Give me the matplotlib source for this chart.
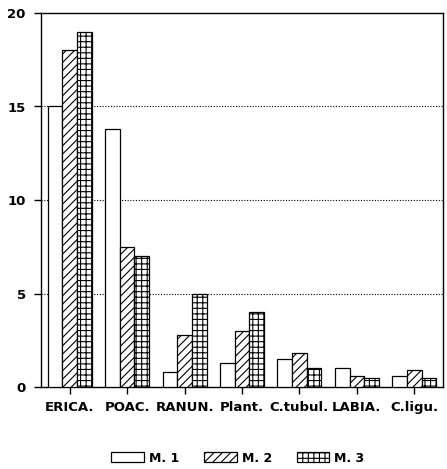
import numpy as np
import matplotlib
matplotlib.use('Agg')
import matplotlib.pyplot as plt

plt.rcParams['font.family'] = ['DejaVu Sans']
plt.rcParams['font.weight'] = 'bold'
plt.rcParams['hatch.linewidth'] = 0.8

# data
categories = ['ERICA.', 'POAC.', 'RANUN.', 'Plant.', 'C.tubul.', 'LABIA.', 'C.ligu.']
m1 = [15.0, 13.8, 0.8, 1.3, 1.5, 1.0, 0.6]
m2 = [18.0, 7.5, 2.8, 3.0, 1.8, 0.6, 0.9]
m3 = [19.0, 7.0, 5.0, 4.0, 1.0, 0.5, 0.5]
series = ['M. 1', 'M. 2', 'M. 3']
hatches = ['', '////', '+++']
y_ticks = [0, 5, 10, 15, 20]

fig = plt.figure(figsize=(4.47, 4.69), dpi=100)
ax = fig.add_axes([41/447, 1 - 387/469, 402/447, 374/469])

x = np.arange(len(categories))
w = 0.255
for i, (vals, name, h) in enumerate(zip([m1, m2, m3], series, hatches)):
    ax.bar(x + (i - 1) * w, vals, w, color='white', edgecolor='black',
           linewidth=0.9, hatch=h, label=name, zorder=3)

ax.set_xlim(-0.5, len(categories) - 0.5)
ax.set_ylim(0, 20)
ax.set_yticks(y_ticks)
ax.set_yticklabels([str(t) for t in y_ticks], fontsize=9.5, fontweight='bold')
ax.set_xticks(x)
ax.set_xticklabels(categories, fontsize=9.5, fontweight='bold')
ax.tick_params(axis='both', direction='out', length=5, width=1, color='black')
ax.tick_params(axis='x', pad=5)
ax.tick_params(axis='y', pad=6)

for t in [5, 10, 15]:
    ax.axhline(t, color='black', linestyle=(0, (1, 1.5)), linewidth=0.8, zorder=1)

for s in ax.spines.values():
    s.set_linewidth(1.0)
    s.set_color('black')

leg = fig.legend(loc='center', bbox_to_anchor=(238/447, 1 - 458/469), ncol=3,
                 frameon=False, handlelength=2.6, handleheight=0.9,
                 columnspacing=2.0, handletextpad=0.4,
                 prop={'weight': 'bold', 'size': 9})

fig.savefig('out.png', dpi=100)
